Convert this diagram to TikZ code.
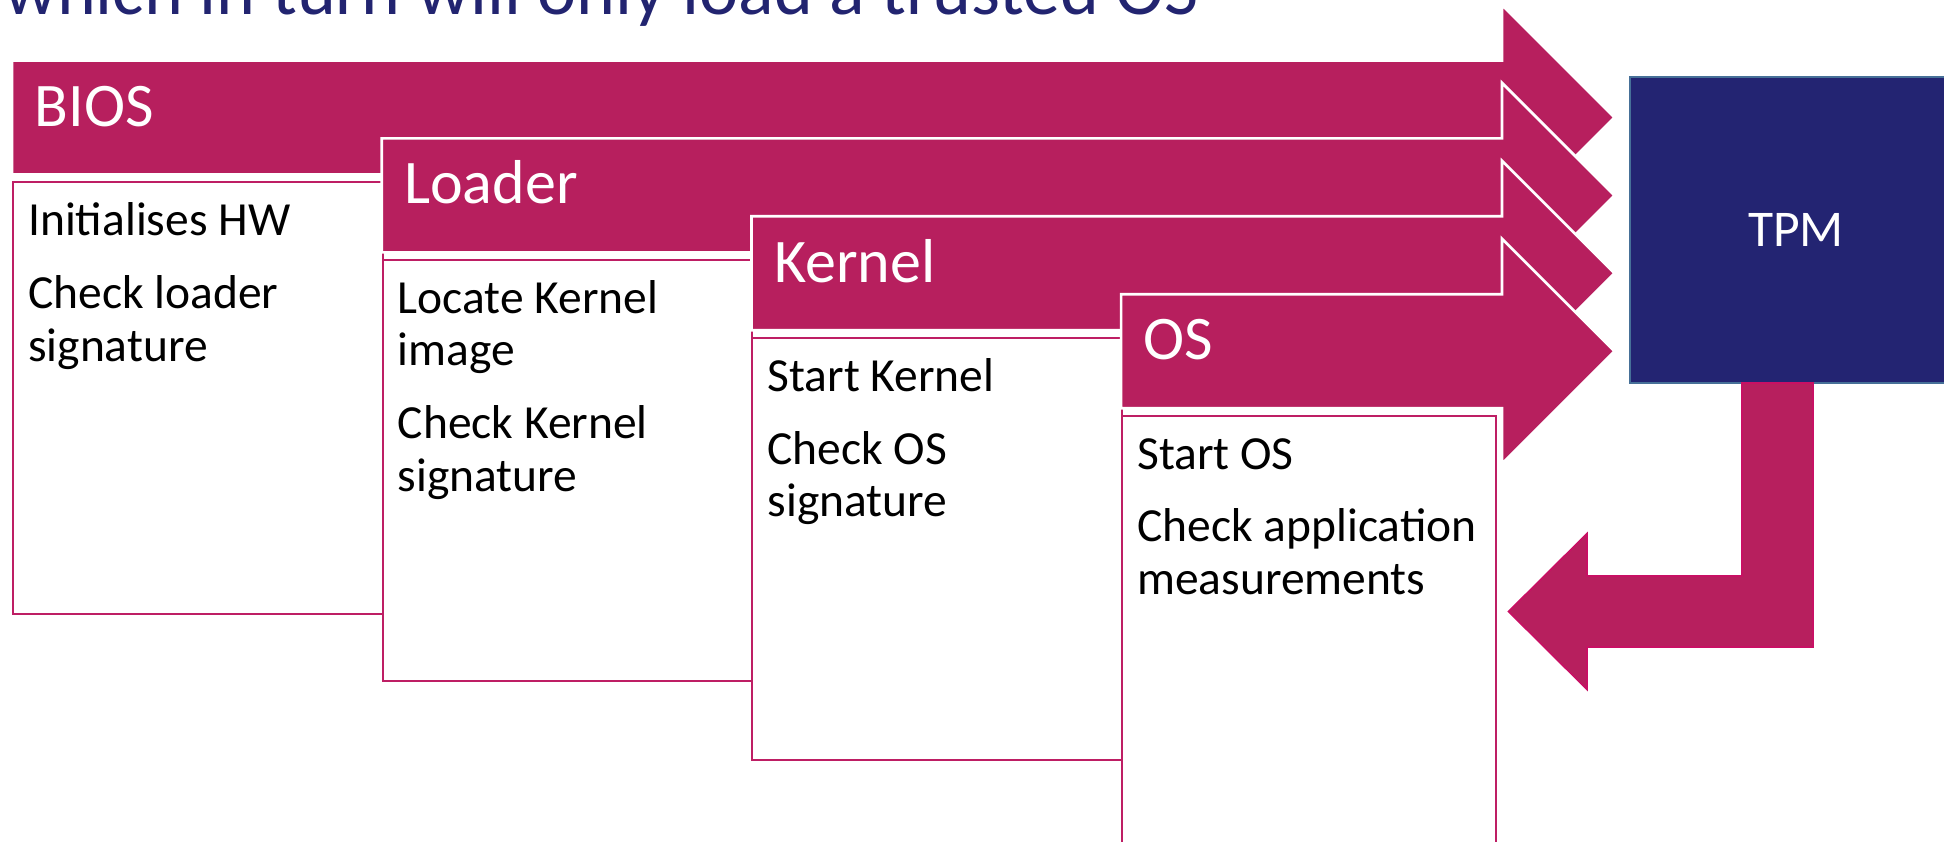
\documentclass[tikz,border=0pt]{standalone}
\usepackage{fontspec}
\setmainfont{Carlito}
\usetikzlibrary{calc}

\definecolor{stagefill}{RGB}{183,31,94}
\definecolor{boxline}{RGB}{190,30,100}
\definecolor{returnline}{RGB}{200,16,100}
\definecolor{tpmfill}{RGB}{35,36,114}
\definecolor{tpmline}{RGB}{70,112,152}
\definecolor{titlenavy}{RGB}{34,36,112}

\begin{document}
\begin{tikzpicture}[x=1pt,y=-1pt,
  stagearrow/.style={fill=stagefill, draw=white, line width=2.7pt, line join=miter},
  stagebox/.style={draw=boxline, line width=2pt, fill=white, anchor=north west,
    inner sep=0pt, minimum width=#1},
  stagebox/.default=370,
  headtext/.style={text=white, anchor=base west, inner sep=0pt,
    font=\fontsize{62}{70}\selectfont},
  bodytext/.style={text=black, anchor=base west, inner sep=0pt,
    font=\fontsize{47.5}{52}\selectfont},
  tpmbox/.style={fill=tpmfill, draw=tpmline, line width=2pt, text=white,
    inner sep=0pt, font=\fontsize{51.5}{60}\selectfont},
  returnarrow/.style={fill=stagefill, draw=returnline, line width=1.6pt, line join=miter},
]
\useasboundingbox (0,0) rectangle (1944,842);
\clip (0,0) rectangle (1944,842);

% heading line above the chain (partly out of frame)
\node[anchor=base west, inner sep=0pt, text=titlenavy,
  font=\fontsize{74}{80}\selectfont] (title) at (4,15)
  {which in turn will only load a trusted OS};

% ---- BIOS stage ----
\path[stagearrow] (12,60.5) -- (1502,60.5) -- (1502,5) -- (1614.5,117.5)
  -- (1502,230) -- (1502,174.5) -- (12,174.5) -- cycle;
\node[headtext] (biosname) at (34.5,126.5) {BIOS};
\node[stagebox, minimum height=432] (biosbox) at (12,181) {};
\node[bodytext] (bios1) at ($(biosbox.north west)+(16,54.5)$) {Initialises HW};
\node[bodytext] (bios2) at ($(bios1.base west)+(0,73)$) {Check loader};
\node[bodytext] (bios3) at ($(bios2.base west)+(0,52.5)$) {signature};

% ---- Loader stage ----
\path[stagearrow] (381.7,138.4) -- (1502,138.4) -- (1502,82.9) -- (1614.5,195.4)
  -- (1502,307.9) -- (1502,252.4) -- (381.7,252.4) -- cycle;
\node[headtext] (loadername) at (404,204) {Loader};
\node[stagebox=369.5, minimum height=421.5] (loaderbox) at (381.7,258.9) {};
\node[bodytext] (loader1) at ($(loaderbox.north west)+(16,54.5)$) {Locate Kernel};
\node[bodytext] (loader2) at ($(loader1.base west)+(0,52.5)$) {image};
\node[bodytext] (loader3) at ($(loader2.base west)+(0,73)$) {Check Kernel};
\node[bodytext] (loader4) at ($(loader3.base west)+(0,52.5)$) {signature};

% ---- Kernel stage ----
\path[stagearrow] (751.4,216.3) -- (1502,216.3) -- (1502,160.8) -- (1614.5,273.3)
  -- (1502,385.8) -- (1502,330.3) -- (751.4,330.3) -- cycle;
\node[headtext] (kernelname) at (774,282.5) {Kernel};
\node[stagebox=369.7, minimum height=422.5] (kernelbox) at (751.4,336.8) {};
\node[bodytext] (kernel1) at ($(kernelbox.north west)+(16,54.5)$) {Start Kernel};
\node[bodytext] (kernel2) at ($(kernel1.base west)+(0,73)$) {Check OS};
\node[bodytext] (kernel3) at ($(kernel2.base west)+(0,52.5)$) {signature};

% ---- OS stage ----
\path[stagearrow] (1121.1,294.2) -- (1502,294.2) -- (1502,238.7) -- (1614.5,351.2)
  -- (1502,463.7) -- (1502,408.2) -- (1121.1,408.2) -- cycle;
\node[headtext] (osname) at (1143,359.5) {OS};
\node[stagebox=373.5, minimum height=450] (osbox) at (1121.1,414.7) {};
\node[bodytext] (os1) at ($(osbox.north west)+(16,54.5)$) {Start OS};
\node[bodytext] (os2) at ($(os1.base west)+(0,72.5)$) {Check application};
\node[bodytext] (os3) at ($(os2.base west)+(0,52.5)$) {measurements};

% ---- TPM and the answer back to the OS ----
\node[tpmbox, minimum width=332, minimum height=306] (tpm) at (1796,230) {TPM};
\path[returnarrow] (1742,383) -- (1742,576) -- (1587,576) -- (1587,533.5)
  -- (1508.5,611.5) -- (1587,689.5) -- (1587,647) -- (1813,647)
  -- (1813,383) -- cycle;
\end{tikzpicture}
\end{document}
